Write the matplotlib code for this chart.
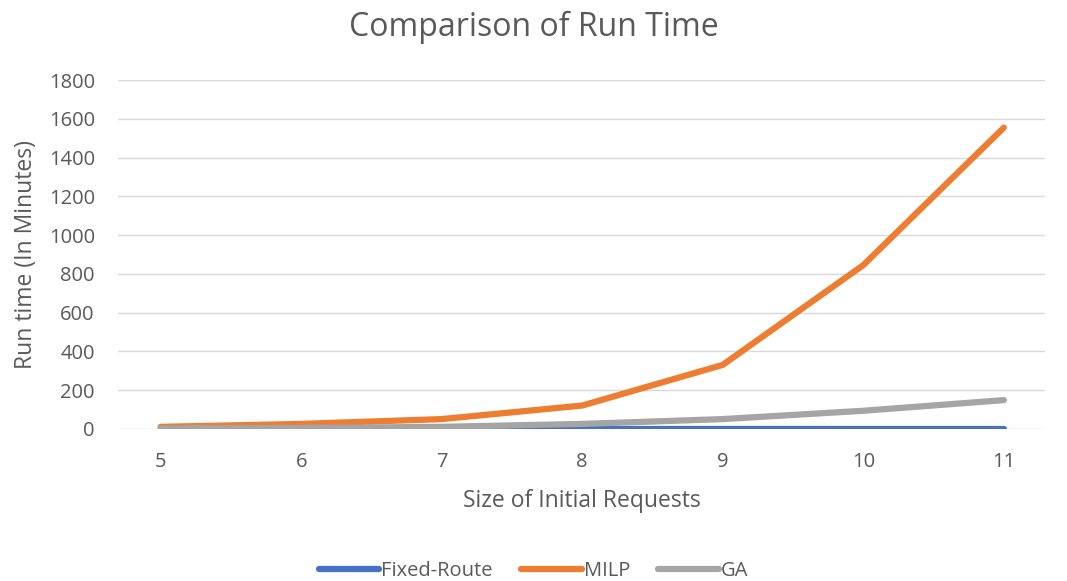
import numpy as np
import matplotlib.pyplot as plt

plt.rcParams['font.family'] = ['Open Sans', 'DejaVu Sans']

sizes = [5, 6, 7, 8, 9, 10, 11]
fixed_route = [0.5, 0.5, 0.5, 0.5, 0.5, 0.5, 0.5]
milp = [10, 25, 50, 120, 330, 845, 1555]
ga = [2, 4, 10, 25, 50, 93, 148]

text_col = '#595959'

fig = plt.figure(figsize=(10.67, 5.81), dpi=100)
ax = fig.add_axes([0.111, 0.262, 0.868, 0.6])

ax.plot(sizes, fixed_route, color='#4472C4', lw=4.5, label='Fixed-Route', solid_capstyle='round')
ax.plot(sizes, milp, color='#ED7D31', lw=4.5, label='MILP', solid_capstyle='round')
ax.plot(sizes, ga, color='#A5A5A5', lw=4.5, label='GA', solid_capstyle='round')

ax.set_xlim(4.7, 11.29)
ax.set_ylim(0, 1800)
ax.set_xticks(sizes)
ax.set_yticks(np.arange(0, 1801, 200))
ax.grid(axis='y', color='#D9D9D9', lw=1)
ax.set_axisbelow(True)
for s in ax.spines.values():
    s.set_visible(False)
ax.tick_params(length=0, labelsize=14.5, colors=text_col)
ax.tick_params(axis='y', pad=17)
ax.tick_params(axis='x', pad=17)

ax.set_xlabel('Size of Initial Requests', fontsize=16.5, color=text_col, labelpad=12)
ax.set_ylabel('Run time (In Minutes)', fontsize=16.5, color=text_col, labelpad=8)
fig.suptitle('Comparison of Run Time', fontsize=23, color=text_col, y=0.982)

fig.legend(loc='lower center', ncol=3, frameon=False, fontsize=14.5,
           bbox_to_anchor=(0.5, -0.031), handlelength=3.0, handletextpad=0.1,
           columnspacing=1.4, labelcolor=text_col)

fig.savefig('out.png')
